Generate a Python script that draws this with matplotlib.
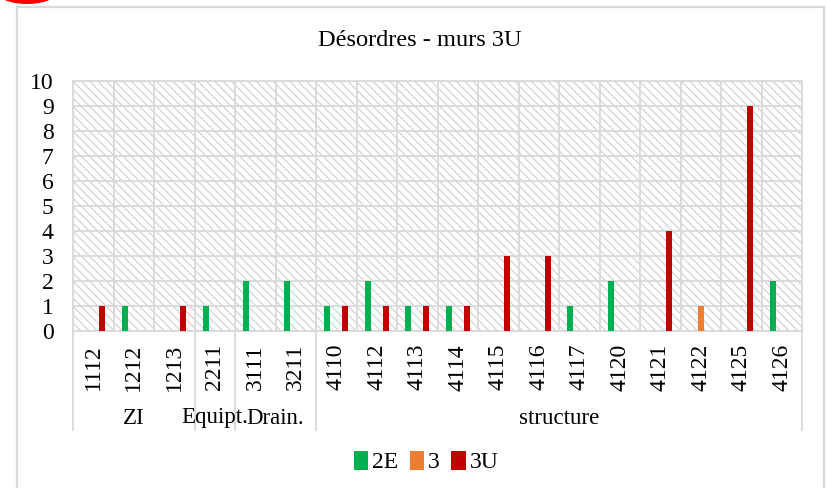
import matplotlib
matplotlib.use("Agg")
import matplotlib.pyplot as plt
from matplotlib.patches import Rectangle, Patch, Ellipse
from matplotlib.transforms import blended_transform_factory
import numpy as np

plt.rcParams['font.family'] = ['Liberation Serif', 'DejaVu Serif']
plt.rcParams['hatch.linewidth'] = 0.8
plt.rcParams['hatch.color'] = '#cfcfcf'

# ---- data ----
categories = ['1112', '1212', '1213', '2211', '3111', '3211', '4110', '4112', '4113',
              '4114', '4115', '4116', '4117', '4120', '4121', '4122', '4125', '4126']
groups = ['ZI', 'Equipt.', 'Drain.', 'structure']
group_sizes = [3, 1, 2, 12]
series_names = ['2E', '3', '3U']
s_2E = [0, 1, 0, 1, 2, 2, 1, 2, 1, 1, 0, 0, 1, 2, 0, 0, 0, 2]
s_3 = [0, 0, 0, 0, 0, 0, 0, 0, 0, 0, 0, 0, 0, 0, 0, 1, 0, 0]
s_3U = [1, 0, 1, 0, 0, 0, 1, 1, 1, 1, 3, 3, 0, 0, 4, 0, 9, 0]
colors = ['#00B050', '#ED7D31', '#C00000']
y_ticks = list(range(0, 11))

W, H = 826, 488
fig = plt.figure(figsize=(W / 100, H / 100), dpi=100)

# outer frame
fig.patches.append(Rectangle((17 / W, -0.05), (824 - 17) / W, 1 - 7 / H + 0.05,
                             transform=fig.transFigure, fill=False,
                             edgecolor='#d9d9d9', lw=1.6))
# red mark at top-left
fig.patches.append(Ellipse((27 / W, 1 + 10 / H), 64 / W, 28 / H,
                           transform=fig.transFigure, color='#ff0000', lw=0))

L, R, T, B = 73, 802, 81, 331
ax = fig.add_axes([L / W, 1 - B / H, (R - L) / W, (B - T) / H])
ax.set_facecolor('white')
ax.add_patch(Rectangle((0, 0), 1, 1, transform=ax.transAxes, facecolor='white',
                       edgecolor='#cfcfcf', hatch='\\\\\\\\', lw=0, zorder=0.1))

n = len(categories)
x = np.arange(n)
bw = 0.148
off = 0.222
for i, (vals, c) in enumerate(zip([s_2E, s_3, s_3U], colors)):
    ax.bar(x + (i - 1) * off, vals, width=bw, color=c, zorder=3, lw=0)

ax.set_xlim(-0.5, n - 0.5)
ax.set_ylim(0, 10)
ax.set_yticks(y_ticks)
ax.set_yticklabels([str(v) for v in y_ticks], fontsize=17)
ax.tick_params(axis='y', length=0, pad=14)
ax.set_xticks([])

gc = '#d9d9d9'
for v in y_ticks:
    ax.axhline(v, color=gc, lw=1.3, zorder=1)
for b in np.arange(-0.5, n, 1.0):
    ax.axvline(b, color=gc, lw=1.3, zorder=1)
for sp in ax.spines.values():
    sp.set_color(gc)
    sp.set_linewidth(1.3)

trans = blended_transform_factory(ax.transData, ax.transAxes)
ah = B - T
for i, lab in enumerate(categories):
    ax.text(i, -(344 - B) / ah, lab, rotation=90, ha='center', va='top',
            fontsize=17, transform=trans)

# group separators and labels
start = 0
bounds = [-0.5]
for g, sz in zip(groups, group_sizes):
    centre = start + (sz - 1) / 2
    ax.text(centre, -(418 - B) / ah, g, ha='center', va='center', fontsize=16.5,
            transform=trans)
    start += sz
    bounds.append(start - 0.5)
for b in bounds:
    ax.plot([b, b], [0, -(430 - B) / ah], color=gc, lw=1.3, transform=trans,
            clip_on=False, zorder=1)

fig.text(420 / W, 1 - 40 / H, 'Désordres - murs 3U', ha='center', va='center',
         fontsize=17.6)

handles = [Patch(facecolor=c, edgecolor='none') for c in colors]
fig.legend(handles, series_names, loc='center', bbox_to_anchor=(426 / W, 1 - 462 / H),
           ncol=3, frameon=False, fontsize=17, handlelength=0.62, handleheight=0.85,
           handletextpad=0.15, columnspacing=0.5)

fig.savefig('out.png', dpi=100)
